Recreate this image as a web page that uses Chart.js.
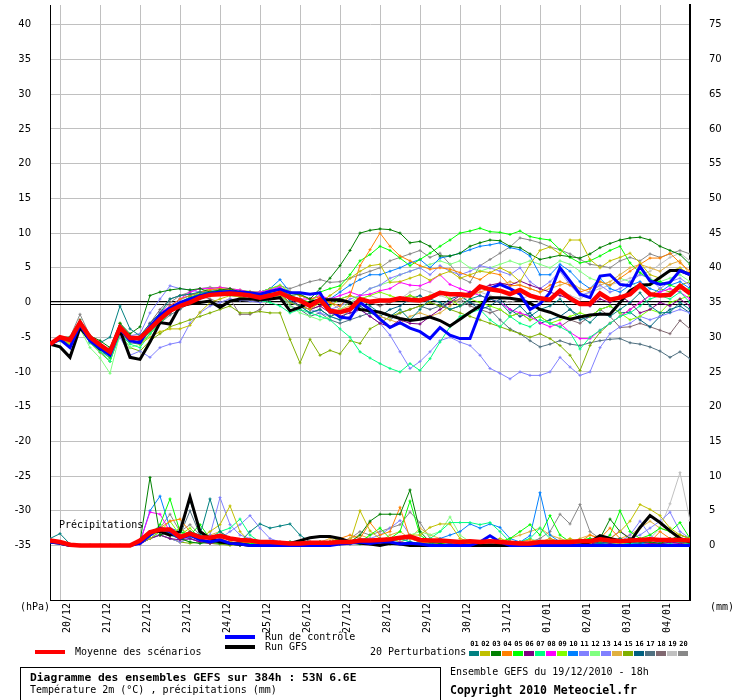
<!DOCTYPE html>
<html>
<head>
<meta charset="utf-8">
<title>Diagramme des ensembles GEFS</title>
<script src="https://cdn.jsdelivr.net/npm/chart.js@4.4.1/dist/chart.umd.min.js"></script>
<style>
  body { margin: 0; background: #fff; }
  #wrap { position: relative; width: 740px; height: 700px; overflow: hidden;
          font-family: "DejaVu Sans Mono", monospace; font-size: 10px; color: #000; }
  #chart { position: absolute; left: 0; top: 0; }
  .txt { position: absolute; white-space: pre; line-height: 10px; }
  .bar { position: absolute; width: 30px; height: 4px; }
  .sw  { position: absolute; top: 651px; width: 10px; height: 5px; }
  .num { position: absolute; top: 641px; width: 11px; text-align: center; font-size: 7px; font-weight: bold; line-height: 7px; }
  .bold { font-weight: bold; font-size: 11.3px; line-height: 11px; }
  #box { position: absolute; left: 20px; top: 667px; width: 419px; height: 40px; border: 1px solid #000; }
</style>
</head>
<body>
<div id="wrap">
  <canvas id="chart" width="740" height="700"></canvas>
  <div class="txt" style="left:20px;top:602px">(hPa)</div>
  <div class="txt" style="left:710px;top:602px">(mm)</div>
  <div class="txt" style="left:59px;top:520px">Précipitations</div>
  <div class="bar" style="left:225px;top:635px;background:#0000ff"></div>
  <div class="txt" style="left:265px;top:632px">Run de contrôle</div>
  <div class="bar" style="left:225px;top:645px;background:#000"></div>
  <div class="txt" style="left:265px;top:642px">Run GFS</div>
  <div class="bar" style="left:35px;top:650px;background:#ff0000"></div>
  <div class="txt" style="left:75px;top:647px">Moyenne des scénarios</div>
  <div class="txt" style="left:370px;top:647px">20 Perturbations</div>
  <div id="swatches"></div>
  <div id="box"></div>
  <div class="txt bold" style="left:30px;top:672px">Diagramme des ensembles GEFS sur 384h : 53N 6.6E</div>
  <div class="txt" style="left:30px;top:685px">Température 2m (°C) , précipitations (mm)</div>
  <div class="txt" style="left:450px;top:667px">Ensemble GEFS du 19/12/2010 - 18h</div>
  <div class="txt bold" style="left:450px;top:685px;font-size:11.5px">Copyright 2010 Meteociel.fr</div>
</div>
<script>
// time axis: hours after 19/12/2010 18h, 6-hourly
const hours = [0,6,12,18,24,30,36,42,48,54,60,66,72,78,84,90,96,102,108,114,120,126,132,138,144,150,156,162,168,174,180,186,192,
  198,204,210,216,222,228,234,240,246,252,258,264,270,276,282,288,294,300,306,312,318,324,330,336,342,348,354,360,366,372,378,384];
const dayTicks  = [6,30,54,78,102,126,150,174,198,222,246,270,294,318,342,366];
const dayLabels = ['20/12','21/12','22/12','23/12','24/12','25/12','26/12','27/12','28/12','29/12','30/12','31/12','01/01','02/01','03/01','04/01'];
const tempTicks = [-35,-30,-25,-20,-15,-10,-5,0,5,10,15,20,25,30,35,40];
const rainTicks = [0,5,10,15,20,25,30,35,40,45,50,55,60,65,70,75];
const pertColors = ['#008080','#c0c000','#008000','#ff8000','#00ff00','#800080','#00ff80','#ff00ff','#80ff00','#0080ff',
                    '#8080ff','#80ff80','#8080ff','#e0b040','#80b000','#006080','#507080','#806870','#c0c0c0','#888888'];

// 2m temperature (°C)
const tempMean = [-6.0,-5.0,-5.4,-2.9,-5.0,-6.1,-7.1,-3.6,-5.1,-5.1,-3.8,-2.4,-1.2,
  -0.5,0.0,0.7,1.1,1.2,1.3,1.2,1.0,0.7,1.0,1.4,0.7,0.3,
  -0.5,0.4,-1.2,-1.4,-1.0,0.5,0.1,0.3,0.3,0.6,0.4,0.3,0.7,
  1.4,1.2,1.2,1.0,2.3,1.9,1.7,1.2,1.8,1.0,0.6,0.4,1.7,
  0.6,-0.2,-0.2,1.3,0.4,0.7,1.2,2.5,1.2,1.0,1.1,2.4,1.3];
const tempCtrl = [-6.0,-5.3,-6.5,-3.2,-5.5,-6.6,-7.6,-3.8,-5.5,-5.8,-3.5,-1.8,-0.8,
  0.0,0.5,1.0,1.3,1.5,1.6,1.5,1.4,1.2,1.6,1.9,1.4,1.4,
  1.2,1.4,-1.0,-2.1,-2.3,0.0,-1.0,-2.4,-3.6,-2.9,-3.7,-4.2,-5.2,
  -3.6,-4.7,-5.2,-5.2,-1.4,2.0,2.6,2.0,1.2,-1.0,-0.2,1.4,5.0,
  3.1,1.2,0.7,3.8,4.0,2.6,2.4,5.2,3.1,2.6,2.9,4.6,4.0];
const tempGfs = [-6.0,-6.4,-7.9,-3.6,-5.4,-6.7,-7.1,-4.0,-7.9,-8.2,-5.7,-2.9,-3.1,
  -0.5,-0.2,0.0,0.2,-0.7,0.2,0.5,0.5,0.4,0.5,0.7,-1.2,-0.7,
  0.0,0.4,0.4,0.4,0.0,-1.0,-1.2,-1.4,-1.9,-2.3,-2.6,-2.4,-2.1,
  -2.6,-3.4,-2.4,-1.4,-0.5,0.7,0.7,0.6,0.4,-0.1,-1.0,-1.4,-2.0,
  -2.4,-2.1,-1.8,-1.7,-1.7,0.0,1.7,2.5,2.6,3.6,4.6,4.6,4.0];
const temp01 = [-6.0,-5.0,-5.5,-3.0,-5.3,-5.8,-5.0,-0.5,-3.8,-4.8,-3.0,-1.5,0.5,
  1.0,1.2,1.5,1.4,1.6,1.3,1.2,1.0,0.8,1.5,1.8,0.2,-0.5,
  -1.5,-1.0,-2.0,-2.5,-1.0,0.5,-0.5,-1.5,-2.0,-1.0,-2.5,-1.0,0.5,
  0.0,-1.0,-0.5,0.5,1.0,0.5,0.0,-1.5,-0.5,-2.0,-1.0,-0.5,0.5,
  -1.0,-2.0,-2.9,-1.5,-2.0,-1.0,0.0,1.4,-0.5,-1.5,-1.4,0.0,-1.0];
const temp02 = [-6.0,-5.2,-6.0,-3.5,-5.5,-6.5,-7.5,-4.5,-5.5,-6.0,-5.0,-4.2,-3.8,
  -3.8,-3.3,-1.4,0.0,0.5,1.0,0.8,0.5,0.3,0.8,1.0,0.0,-0.5,
  -1.0,0.0,1.0,2.0,3.5,4.5,5.3,5.5,2.9,3.0,3.5,4.0,3.2,
  4.0,4.5,3.5,4.0,4.5,4.3,5.0,4.3,3.0,5.5,7.5,8.0,7.0,
  9.0,9.0,6.2,5.0,6.0,6.5,7.1,5.7,4.0,3.5,4.5,5.0,4.0];
const temp03 = [-6.0,-5.0,-5.0,-2.5,-4.8,-5.5,-6.5,-3.0,-4.5,-3.5,1.0,1.5,1.8,
  2.0,1.8,2.0,1.5,1.8,2.0,1.5,1.3,1.0,1.2,1.5,1.0,1.2,
  0.5,2.0,3.5,5.3,7.5,10.0,10.4,10.6,10.5,10.0,8.6,8.8,8.1,
  6.7,6.7,7.1,8.1,8.6,9.0,8.9,8.1,7.9,7.0,6.2,6.5,6.8,
  6.6,6.4,7.0,7.9,8.5,9.0,9.3,9.4,9.0,8.1,7.5,6.9,5.5];
const temp04 = [-6.0,-5.2,-5.8,-3.0,-5.2,-6.3,-7.3,-3.8,-5.3,-5.0,-3.5,-2.0,-0.5,
  0.5,1.0,1.5,1.8,2.0,1.8,1.6,1.5,1.3,1.7,2.0,1.5,1.0,
  0.5,0.8,0.0,-0.5,1.0,5.3,7.6,10.0,8.1,6.7,6.0,5.3,4.8,
  5.0,4.8,4.3,3.8,3.3,4.3,4.0,2.4,2.5,2.0,1.5,2.5,3.0,
  2.5,1.5,2.0,3.0,2.5,3.5,4.5,5.5,6.4,6.4,7.1,5.7,4.5];
const temp05 = [-6.0,-5.3,-6.0,-3.3,-5.5,-6.8,-8.0,-3.5,-5.5,-5.8,-4.0,-2.5,-1.0,
  0.0,0.8,1.2,1.5,1.8,1.5,1.6,1.4,1.2,1.6,1.8,1.0,0.5,
  0.0,1.5,2.0,2.4,4.0,6.0,6.9,8.1,7.5,6.4,5.3,6.2,7.1,
  8.1,9.0,10.0,10.3,10.7,10.2,10.1,9.8,10.3,9.5,9.2,9.0,7.6,
  6.5,5.7,6.0,6.7,7.5,8.1,5.7,4.3,3.3,3.0,2.5,2.0,1.9];
const temp06 = [-6.0,-5.0,-5.3,-2.8,-5.0,-6.0,-7.0,-3.5,-5.0,-5.5,-4.0,-2.5,-1.5,
  -0.5,0.3,1.0,1.3,1.5,1.6,1.4,1.2,1.0,1.3,1.5,0.5,-0.5,
  -1.0,-0.5,-1.5,-2.0,-1.5,-1.0,-2.0,-3.0,-3.5,-2.5,-3.0,-3.1,-2.0,
  -1.0,0.0,1.0,1.5,2.0,2.5,2.8,2.5,3.1,2.5,2.0,1.5,1.0,
  0.5,0.0,-0.5,0.5,0.0,1.0,0.0,-1.5,-1.0,0.0,-0.5,0.5,-0.5];
const temp07 = [-6.0,-5.5,-6.2,-3.5,-5.8,-7.0,-8.5,-4.5,-6.0,-6.5,-4.5,-3.0,-1.5,
  -0.5,0.5,1.0,1.2,1.4,1.5,1.2,0.8,0.3,0.0,-0.5,-1.5,-1.0,
  -1.5,-2.0,-2.5,-3.8,-5.0,-7.1,-8.0,-8.8,-9.5,-10.0,-8.8,-9.8,-8.1,
  -5.7,-3.5,-2.0,-1.5,-1.0,-2.5,-3.5,-2.0,-3.0,-3.5,-2.5,-3.0,-3.5,
  -4.3,-6.7,-5.0,-4.0,-3.0,-2.0,-1.5,-0.5,0.5,1.0,0.5,1.5,0.0];
const temp08 = [-6.0,-5.0,-5.5,-3.0,-5.0,-6.2,-7.0,-3.3,-5.0,-5.3,-3.0,-1.5,-0.5,
  0.5,1.5,2.0,2.0,2.2,2.0,1.8,1.5,1.5,1.8,2.2,1.0,0.5,
  0.5,1.0,0.5,1.0,1.5,1.0,1.2,1.7,2.0,2.9,2.5,2.4,3.0,
  4.0,2.6,2.0,1.5,1.0,0.5,0.0,-1.0,-1.5,-2.0,-2.9,-3.5,-3.0,
  -4.3,-5.2,-5.2,-4.0,-3.0,-2.0,-1.0,0.0,1.0,1.5,2.0,1.5,0.5];
const temp09 = [-6.0,-5.5,-6.0,-3.2,-5.5,-6.5,-7.8,-3.0,-5.5,-6.0,-4.5,-3.0,-1.5,
  -0.5,0.5,1.5,2.0,2.2,2.0,1.8,1.6,1.5,2.0,2.5,1.5,1.0,
  0.5,0.0,-0.5,0.5,1.0,0.5,1.0,1.5,1.0,0.5,1.0,0.5,1.0,
  1.5,0.5,-0.5,0.5,0.0,-0.5,-1.0,-2.0,-1.5,-2.5,-2.0,-3.0,-2.5,
  -2.0,-1.5,-2.0,-1.0,-0.5,-1.5,-2.5,-2.0,-1.0,-1.5,0.0,0.5,1.0];
const temp10 = [-6.0,-5.0,-5.2,-2.8,-5.0,-6.0,-7.2,-3.5,-5.0,-5.2,-3.5,-2.0,-0.5,
  0.5,1.0,1.5,1.7,1.6,1.8,1.5,1.3,1.5,2.0,3.3,1.5,1.0,
  0.5,0.0,0.5,1.5,2.5,3.3,4.0,4.0,4.5,5.0,5.7,6.2,5.0,
  6.4,6.7,7.1,7.6,8.1,8.3,8.6,7.9,7.6,6.7,4.0,4.0,5.5,
  4.5,3.0,2.0,3.5,2.0,1.5,2.5,3.0,2.0,1.5,2.5,3.0,2.0];
const temp11 = [-6.0,-5.0,-5.5,-3.0,-5.2,-6.0,-7.0,-3.5,-4.8,-4.5,-1.5,0.5,2.4,
  2.0,1.8,1.5,2.0,1.8,1.5,1.3,1.2,1.5,2.0,2.2,1.5,1.0,
  0.5,0.0,-1.0,-0.5,0.5,1.0,2.0,2.5,3.5,4.0,4.5,5.0,4.0,
  5.3,4.5,4.0,4.5,5.3,5.0,4.5,4.0,5.0,3.0,2.0,3.0,4.5,
  2.5,1.0,1.5,2.5,1.5,2.0,3.0,4.0,3.5,2.0,3.0,3.5,2.5];
const temp12 = [-6.0,-5.5,-6.5,-3.8,-6.5,-8.0,-10.2,-4.5,-6.5,-6.0,-4.0,-2.5,-1.0,
  0.0,0.5,1.0,1.5,1.8,1.6,1.5,1.3,1.0,1.5,1.2,-0.5,-1.5,
  -2.0,-2.5,-2.0,-1.0,0.0,1.0,2.0,2.5,3.0,4.0,4.5,5.0,5.5,
  6.0,5.5,6.0,5.0,4.5,5.0,5.5,6.0,5.5,6.0,5.5,5.0,6.0,
  5.5,4.5,3.5,3.0,2.5,3.5,3.0,2.0,2.5,3.0,3.5,4.0,3.0];
const temp13 = [-6.0,-5.3,-6.0,-3.5,-5.8,-7.0,-8.0,-5.0,-7.6,-7.0,-7.9,-6.5,-6.0,
  -5.7,-3.0,-1.5,-0.5,0.0,0.5,0.3,0.2,0.0,0.5,0.8,0.0,-0.5,
  -1.0,-1.5,-2.0,-2.5,-2.0,-1.0,-2.0,-3.0,-4.7,-7.1,-9.5,-8.5,-7.1,
  -5.5,-5.0,-5.7,-6.2,-7.6,-9.5,-10.2,-11.0,-10.0,-10.5,-10.5,-10.0,-7.9,
  -9.3,-10.5,-10.0,-6.5,-4.5,-3.5,-3.0,-2.0,-2.5,-2.0,-1.5,-1.0,-1.5];
const temp14 = [-6.0,-5.2,-5.6,-3.2,-5.2,-6.3,-7.5,-3.8,-5.2,-5.5,-4.0,-2.8,-1.5,
  -0.5,0.5,1.0,1.5,1.7,1.5,1.3,1.0,1.2,1.5,1.7,0.5,0.0,
  -0.5,0.5,0.0,-1.0,-0.5,0.0,-1.0,-2.0,-2.5,-3.0,-2.0,-1.5,-2.0,
  -1.5,-0.5,0.5,1.0,1.5,2.0,2.5,3.0,2.5,2.0,1.5,2.0,2.5,
  3.0,2.0,1.5,2.5,3.0,4.0,5.0,5.5,5.0,4.5,5.5,6.0,4.0];
const temp15 = [-6.0,-5.5,-6.2,-3.6,-5.8,-7.2,-8.5,-4.5,-6.5,-7.0,-5.5,-4.5,-3.5,
  -3.0,-2.5,-2.0,-1.5,-1.0,-0.5,-1.5,-1.5,-1.3,-1.5,-1.5,-5.3,-8.7,
  -5.3,-7.6,-6.9,-7.4,-5.5,-5.9,-3.8,-3.0,-2.0,-1.5,-1.0,-0.5,0.0,
  -0.5,-1.0,-1.5,-2.0,-2.5,-3.0,-3.5,-4.0,-4.5,-5.0,-4.5,-5.2,-6.2,
  -7.6,-9.8,-6.2,-4.3,-3.0,-2.0,-1.0,0.0,1.0,2.0,1.5,2.5,3.0];
const temp16 = [-6.0,-5.0,-5.5,-3.0,-5.3,-6.3,-7.5,-4.0,-5.5,-5.8,-4.2,-2.8,-1.5,
  -0.5,0.3,0.8,1.2,1.5,1.3,1.0,0.8,0.5,1.0,1.2,0.0,-0.5,
  -1.5,-1.0,-2.0,-1.5,-1.0,-0.5,-1.5,-2.0,-1.0,-0.5,0.5,1.0,0.0,
  -0.5,0.5,1.0,0.0,-1.0,-0.5,0.5,-1.0,-2.0,-1.5,-3.0,-2.5,-2.0,
  -1.0,-2.5,-2.0,-1.0,-0.5,-1.5,-1.4,-2.5,-3.5,-2.0,-1.0,-0.5,-1.5];
const temp17 = [-6.0,-5.3,-5.8,-3.4,-5.6,-6.6,-7.8,-4.3,-5.8,-6.0,-4.5,-3.0,-1.8,
  -1.0,0.0,0.5,1.0,1.2,1.0,0.8,0.5,0.3,0.8,1.0,-0.5,-1.0,
  -2.0,-1.5,-2.5,-3.0,-2.5,-2.0,-1.5,-2.0,-2.5,-1.5,-1.0,-0.5,-1.0,
  -0.5,-1.0,-0.5,0.0,-0.5,-1.0,-2.5,-3.8,-4.5,-5.5,-6.4,-6.0,-5.5,
  -6.0,-6.2,-5.8,-5.5,-5.3,-5.2,-5.8,-6.0,-6.4,-7.0,-7.9,-7.1,-8.1];
const temp18 = [-6.0,-5.0,-5.4,-3.0,-5.1,-6.2,-7.2,-3.7,-5.2,-5.0,-3.0,-1.0,0.5,
  1.0,1.2,1.0,0.5,0.0,0.5,-1.7,-1.7,-1.0,0.5,0.8,0.0,-0.5,
  -1.0,-0.5,0.0,0.5,1.0,0.5,0.0,-0.5,0.0,0.5,1.0,0.5,0.0,
  -0.5,0.0,0.5,-0.5,-1.0,-1.5,-1.0,-2.0,-1.5,-2.5,-2.0,-3.0,-3.5,
  -2.5,-3.0,-2.0,-1.0,-2.0,-3.6,-3.5,-3.0,-3.5,-4.0,-4.5,-2.6,-3.8];
const temp19 = [-6.0,-5.1,-5.6,-3.0,-5.2,-6.1,-7.0,-3.4,-5.0,-5.3,-3.5,-2.0,-0.8,
  0.3,1.0,1.5,1.8,1.8,1.7,1.5,1.2,1.0,1.6,2.0,1.0,0.5,
  0.0,0.5,0.0,-0.5,0.0,0.5,1.0,0.5,0.0,0.5,1.5,2.0,1.5,
  1.0,0.5,0.0,1.0,1.5,1.0,0.5,0.0,0.5,1.0,0.0,0.5,1.5,
  1.0,0.5,1.5,2.0,2.5,3.0,3.5,4.0,4.5,5.5,6.5,7.1,6.0];
const temp20 = [-6.0,-5.0,-5.0,-1.7,-4.8,-6.0,-7.0,-3.0,-4.8,-5.0,-3.0,-1.5,0.0,
  1.0,1.5,2.0,2.2,2.0,1.8,1.5,1.2,1.5,2.0,2.4,2.0,2.5,
  3.0,3.3,2.9,3.0,3.5,4.0,4.5,5.0,6.0,6.5,7.0,7.5,6.5,
  7.1,5.5,3.6,2.9,5.3,6.2,7.1,8.0,9.3,9.0,8.6,8.0,7.6,
  7.0,6.2,5.5,5.3,5.0,6.0,6.5,6.0,7.0,6.5,7.0,7.5,7.0];

// precipitation (mm, right axis)
const rainMean = [0.7,0.5,0.1,0,0,0,0,0,0,0.7,1.9,2.3,2.3,
  1.2,1.7,1.2,1.1,1.4,1.0,0.8,0.7,0.5,0.5,0.4,0.3,0.3,
  0.4,0.4,0.4,0.5,0.5,0.7,0.7,0.8,0.9,1.1,1.3,0.8,0.7,
  0.7,0.6,0.5,0.6,0.5,0.6,0.5,0.4,0.3,0.3,0.5,0.5,0.5,
  0.5,0.6,0.6,0.9,0.7,0.6,0.7,0.8,0.9,0.8,0.8,0.8,0.7];
const rainCtrl = [0.5,0.3,0,0,0,0,0,0,0,0.3,1.5,2.5,2.0,
  1.0,1.5,0.8,0.5,0.8,0.3,0.2,0,0,0,0,0,0,
  0,0,0,0.2,0.3,0.5,0.3,0.5,0.5,0.2,0.3,0.2,0,
  0,0,0,0,0.5,1.4,0.5,0,0,0,0,0,0,
  0,0,0,0,0,0,0,0,0,0,0,0,0];
const rainGfs = [0.5,0.3,0,0,0,0,0,0,0,0.5,2.0,2.0,1.5,
  2.0,7.0,2.0,1.0,0.5,0.3,0.2,0,0,0,0,0.3,0.7,
  1.1,1.3,1.3,1.0,0.5,0.3,0.2,0,0.3,0.2,0,0,0,
  0,0,0,0,0,0,0,0,0,0,0,0,0,
  0,0,0.5,1.4,1.0,0.7,0.5,2.6,4.3,3.3,2.1,1.0,0.5];
const rain01 = [1.0,1.7,0.2,0,0,0,0,0,0,0.5,1.5,2.5,1.5,
  1.0,2.0,1.5,6.7,2.0,1.0,0.5,2.0,3.1,2.5,2.8,3.1,1.5,
  0.5,0.3,0,0.2,0.5,0.8,0.5,1.0,0.5,0.3,0.5,0.3,0.2,
  0.5,0.3,0,0,0.5,0.3,0,0.5,0.3,0,0.5,0.3,0,
  0,0.3,0.5,0.3,0.5,1.0,0.5,0.3,0.8,0.5,1.0,0.5,0.3];
const rain02 = [0.5,0.5,0,0,0,0,0,0,0,0.3,1.0,2.0,1.5,
  2.5,1.5,1.0,2.0,3.0,5.7,2.0,0.5,0.3,0.5,0.3,0.2,0.5,
  0.3,0.2,0.5,1.0,0.5,5.0,2.1,1.0,0.8,1.0,1.5,1.5,2.6,
  3.1,3.1,1.0,0.5,0.3,0.5,1.0,0.5,0,0.3,0.5,0.3,0.5,
  1.0,0.5,0.3,0.8,1.0,2.0,3.5,5.9,5.2,4.3,2.5,1.5,1.0];
const rain03 = [0.5,0.3,0,0,0,0,0,0,0,0.5,9.8,1.5,2.0,
  1.0,0.5,0.3,0.5,0.3,0.2,0,0,0,0,0,0,0,
  0,0.2,0.5,1.0,0.5,1.5,3.5,4.5,4.5,4.5,8.0,2.0,0.5,
  0.3,0,0,0,0,0,0.5,0.3,0,0,0,0.5,0.3,
  0.5,0.3,0.5,1.0,3.8,2.0,1.0,0.5,0.5,0.3,0.8,1.5,1.0];
const rain04 = [0.5,0.5,0,0,0,0,0,0,0,0.3,1.5,2.5,3.5,
  3.8,2.0,1.0,0.5,1.0,0.5,0.3,0.5,0.3,0.2,0.5,0.3,0.2,
  0.5,0.3,0.5,1.0,1.5,1.0,3.3,1.5,2.0,5.5,1.0,0.5,0.3,
  0.3,0,0.5,0.3,0,0.5,0.3,0.2,0.5,0.8,0.5,1.0,0.5,
  0.8,0.5,1.5,1.0,2.5,1.0,0.5,1.0,0.5,2.0,1.0,0.5,1.0];
const rain05 = [0.5,0.5,0,0,0,0,0,0,0,0.3,1.5,3.0,6.7,
  2.0,1.5,3.0,1.0,0.5,0.3,0.5,0.3,0.2,0.3,0.2,0.5,0.3,
  0.2,0.5,0.3,0.5,0.3,0.5,1.5,2.5,1.0,2.0,6.4,1.5,0.5,
  0.3,0.5,0.3,0.2,0.5,0.3,0.5,1.0,2.0,3.0,1.5,4.3,1.5,
  0.5,0.8,1.0,0.5,1.5,5.0,2.0,1.0,1.5,2.5,2.0,3.3,1.0];
const rain06 = [0.5,0.3,0,0,0,0,0,0,0,0.2,1.0,1.5,1.0,
  0.8,1.0,0.5,0.3,0.5,0.2,0,0,0,0,0.2,0,0,
  0,0,0.2,0.5,0.3,0.5,0.3,0.2,0.5,0.3,0.2,0,0,
  0,0.2,0,0,0.3,0,0,0,0,0.2,0.5,0.3,0,
  0,0,0.2,0.5,0.3,0.5,1.0,0.5,0.3,0.2,0.5,0.3,0];
const rain07 = [0.5,0.3,0,0,0,0,0,0,0,0.3,1.0,2.0,1.5,
  2.5,1.0,1.5,1.0,2.0,2.5,3.8,1.5,0.5,0.3,0.2,0.5,0.3,
  0.2,0,0.3,0.5,0.3,0.2,0.5,0.3,0.5,1.0,0.5,0.3,1.0,
  2.0,3.3,3.3,3.3,3.0,3.3,2.0,0.5,0.5,1.0,2.5,1.0,0.5,
  0.3,0.5,1.0,0.5,0.3,0.5,0.3,0.5,1.0,0.5,0.3,0.5,0.3];
const rain08 = [0.5,0.3,0,0,0,0,0,0,0,0.5,4.8,4.5,2.0,
  1.5,1.0,0.5,0.8,0.5,0.3,0.2,0,0,0.2,0,0,0,
  0,0.2,0.3,0.5,0.3,0.5,0.8,0.5,0.3,0.5,0.3,0.2,0,
  0,0.2,0.3,0,0,0.2,0,0,0,0.2,0,0,0,
  0.2,0.5,0.3,0.8,1.0,2.1,1.0,0.5,0.3,0.5,0.3,0.2,0];
const rain09 = [0.5,0.3,0,0,0,0,0,0,0,0.3,1.5,2.0,3.5,
  1.5,2.5,1.0,0.5,0.3,0.5,0.3,0.2,0,0.2,0,0,0.2,
  0.3,0.5,0.3,0.2,0.5,0.3,0.5,0.8,1.0,0.5,0.3,0.5,0.3,
  0.2,0.5,0.3,0.2,0,0.3,0.5,0.3,0.2,0.3,0.5,0.3,0.2,
  0.3,0.5,0.3,0.5,0.3,0.5,0.8,0.5,0.3,0.5,1.0,0.5,0.3];
const rain10 = [0.5,0.3,0,0,0,0,0,0,0,0.5,5.0,7.1,2.5,
  2.0,1.0,0.5,0.8,0.5,0.3,0.2,0.3,0.2,0,0,0.2,0.3,
  0.2,0.3,0.5,0.3,0.5,1.0,0.5,0.3,0.5,1.0,0.5,0.3,0.5,
  1.0,1.5,2.0,3.1,2.5,3.1,2.6,1.0,0.5,1.4,7.6,1.5,0.5,
  0.3,0.5,0.3,0.2,0.3,0.5,0.3,0.2,0.5,0.3,0.2,0.5,0.3];
const rain11 = [0.5,0.3,0,0,0,0,0,0,0,0.3,1.5,1.5,2.0,
  1.0,1.5,1.0,1.5,6.9,3.0,1.5,1.0,0.5,0.3,0.2,0.5,0.3,
  0.2,0.3,0.5,0.3,0.5,1.0,1.0,1.5,2.5,3.6,1.5,0.3,0.5,
  0.3,0.2,0,0.3,0.2,0,0.3,0.2,0.5,0.3,0.2,0.5,0.3,
  0.2,0.5,1.0,0.5,0.3,0.5,1.5,3.5,1.5,0.5,1.0,0.5,0.3];
const rain12 = [0.5,0.3,0,0,0,0,0,0,0,0.3,1.0,2.0,1.5,
  1.0,0.5,0.3,0.5,0.3,0.2,0.5,0.3,0.2,0,0,0.2,0,
  0,0.2,0.3,0.5,0.3,0.5,1.0,0.5,1.0,0.5,1.5,2.0,1.5,
  2.0,4.1,1.5,0.5,0.3,0.5,0.3,0.2,0.5,1.0,0.5,0.3,0.5,
  0.3,0.5,0.3,0.5,0.3,0.2,0.5,0.3,0.5,0.3,0.2,0.5,0.3];
const rain13 = [0.5,0.3,0,0,0,0,0,0,0,0.2,1.0,1.5,1.0,
  0.5,1.0,0.5,0.8,1.0,2.0,3.0,4.3,2.5,1.0,0.5,0.3,0.2,
  0,0.2,0.3,0.5,0.3,0.5,0.3,0.2,0.5,0.3,0.2,0.5,0.3,
  0.2,0,0.2,0,0,0.3,0,0,0.2,0,0.3,0.5,0.3,
  0.2,0.5,0.8,0.5,0.3,0.5,1.0,1.5,2.5,3.5,4.8,2.0,1.0];
const rain14 = [0.5,0.3,0,0,0,0,0,0,0,0.3,1.5,2.5,2.0,
  1.5,2.0,1.0,1.5,2.0,1.0,0.5,0.3,0.2,0.5,0.3,0.2,0.5,
  0.3,0.5,1.0,0.5,1.0,1.5,1.0,0.5,1.5,2.0,1.0,2.5,1.5,
  1.0,0.5,0.3,0.2,0.5,0.3,0.5,1.0,1.5,2.0,2.5,1.5,1.0,
  0.5,1.0,1.5,1.0,0.5,1.0,1.5,2.5,3.5,2.5,2.0,1.5,1.0];
const rain15 = [0.5,0.3,0,0,0,0,0,0,0,0.3,1.0,1.5,1.0,
  0.5,0.3,0.5,0.3,0.2,0,0.2,0,0,0.2,0,0,0.2,
  0.3,0.5,0.3,0.2,0.5,0.3,0.5,0.3,0.2,0.5,0.3,0.2,0,
  0,0.2,0,0,0.2,0,0,0,0.2,0,0,0.2,0,
  0,0.2,0.3,0.5,0.3,0.2,0.5,0.3,0.2,0.5,0.3,0.2,0.3];
const rain16 = [0.8,0.5,0,0,0,0,0,0,0,0.5,2.0,2.5,2.0,
  2.0,6.5,2.0,1.0,0.5,0.3,0.5,0.3,0.2,0,0.2,0,0,
  0,0.2,0,0.3,0.2,0.5,0.3,0.2,0.5,0.3,0.2,0,0,
  0,0,0.2,0,0,0,0.2,0,0,0,0,0.2,0,
  0,0,0.2,0.3,0.5,0.3,0.2,0.5,0.3,0.2,0.3,0.5,0.3];
const rain17 = [0.5,0.3,0,0,0,0,0,0,0,0.3,1.5,2.0,1.5,
  1.5,5.0,1.5,1.0,0.5,0.3,0.2,0.5,0.3,0.2,0,0,0,
  0,0.2,0.3,0.2,0.5,0.3,0.2,0.5,0.3,0.2,0,0.2,0,
  0,0,0,0.2,0,0,0,0.2,0,0,0,0,0.2,
  0,0.2,0,0.3,0.2,0.5,0.3,0.2,0.3,0.5,0.3,0.2,0];
const rain18 = [0.5,0.3,0,0,0,0,0,0,0,0.3,1.0,1.5,1.0,
  0.5,1.0,0.5,0.3,0.2,0.5,0.3,0.2,0,0,0.2,0,0,
  0.2,0,0.3,0.2,0.5,0.3,0.5,0.3,0.2,0.5,1.0,0.5,0.3,
  0.2,0,0,0.2,0,0,0.2,0,0,0.3,0,0,0.2,
  0.3,0.5,0.3,0.2,0.5,0.3,0.5,0.3,0.2,0.5,0.3,0.2,0.3];
const rain19 = [0.5,0.3,0,0,0,0,0,0,0,0.3,1.5,2.0,1.5,
  1.0,1.5,0.5,0.3,0.5,0.3,0.2,0,0.2,0,0,0.2,0,
  0.2,0.3,0.5,0.3,0.2,0.5,0.3,0.2,0.5,0.3,0.2,0.5,0.3,
  0.2,0,0.2,0,0.3,0.2,0,0.2,0.5,0.3,0.2,0.5,0.3,
  0.5,0.3,0.5,0.3,0.5,1.0,0.5,1.0,1.0,2.5,6.0,10.5,3.6];
const rain20 = [0.5,0.3,0,0,0,0,0,0,0,0.3,1.5,2.5,4.5,
  2.0,3.0,1.5,1.0,2.0,0.5,0.3,0.2,0.5,0.3,0.2,0.5,0.3,
  0.2,0.5,0.3,0.5,1.0,2.0,1.5,2.0,2.5,3.0,4.8,3.3,1.0,
  0.5,0.3,0.5,0.3,0.2,0.5,0.3,0.5,0.3,0.5,1.0,2.0,4.5,
  3.1,5.9,2.0,1.0,0.5,0.3,0.5,1.0,0.5,0.3,0.5,1.0,0.5];

const tempPert = [temp01,temp02,temp03,temp04,temp05,temp06,temp07,temp08,temp09,temp10,
                  temp11,temp12,temp13,temp14,temp15,temp16,temp17,temp18,temp19,temp20];
const rainPert = [rain01,rain02,rain03,rain04,rain05,rain06,rain07,rain08,rain09,rain10,
                  rain11,rain12,rain13,rain14,rain15,rain16,rain17,rain18,rain19,rain20];

// legend swatches
const sw = document.getElementById('swatches');
pertColors.forEach((c, k) => {
  const left = 469 + k * 11;
  const n = document.createElement('div');
  n.className = 'num'; n.style.left = left + 'px';
  n.textContent = String(k + 1).padStart(2, '0');
  sw.appendChild(n);
  const b = document.createElement('div');
  b.className = 'sw'; b.style.left = left + 'px'; b.style.background = c;
  sw.appendChild(b);
});

function series(values, color, width, axis, order, marker) {
  return {
    data: hours.map((h, i) => ({ x: h, y: values[i] })),
    yAxisID: axis,
    borderColor: color,
    backgroundColor: color,
    borderWidth: width,
    pointRadius: marker ? 1.5 : 0,
    pointStyle: 'cross',
    pointBorderWidth: 1,
    tension: 0,
    fill: false,
    order
  };
}

const datasets = [];
tempPert.forEach((v, k) => datasets.push(series(v, pertColors[k], 1, 'y', 3, true)));
rainPert.forEach((v, k) => datasets.push(series(v, pertColors[k], 1, 'y2', 3, true)));
datasets.push(series(tempGfs, '#000000', 3, 'y', 2, false));
datasets.push(series(rainGfs, '#000000', 3, 'y2', 2, false));
datasets.push(series(tempCtrl, '#0000ff', 3, 'y', 1, false));
datasets.push(series(rainCtrl, '#0000ff', 3, 'y2', 1, false));
datasets.push(series(tempMean, '#ff0000', 4.5, 'y', 0, false));
datasets.push(series(rainMean, '#ff0000', 4.5, 'y2', 0, false));

// double black line at 0 °C
const zeroLine = {
  id: 'zeroLine',
  beforeDatasetsDraw(chart) {
    const { ctx, chartArea: a, scales: { y } } = chart;
    const y0 = Math.round(y.getPixelForValue(0));
    ctx.save();
    ctx.strokeStyle = '#000';
    ctx.lineWidth = 1;
    [y0 - 2, y0 + 1].forEach(p => {
      ctx.beginPath();
      ctx.moveTo(a.left, p + 0.5);
      ctx.lineTo(a.right, p + 0.5);
      ctx.stroke();
    });
    ctx.restore();
  }
};

const half = 300 / 7;
const numFont = { family: 'DejaVu Sans', size: 10 };

new Chart(document.getElementById('chart'), {
  type: 'line',
  data: { datasets },
  plugins: [zeroLine],
  options: {
    responsive: false,
    animation: false,
    layout: { padding: 0 },
    plugins: { legend: { display: false }, tooltip: { enabled: false } },
    scales: {
      x: {
        type: 'linear', min: 0, max: 384,
        afterBuildTicks: s => { s.ticks = dayTicks.map(v => ({ value: v })); },
        afterFit: s => { s.height = 100; s.paddingLeft = 0; s.paddingRight = 0; },
        ticks: {
          autoSkip: false, minRotation: 90, maxRotation: 90, labelOffset: 7, padding: 3,
          color: '#000', font: { family: 'DejaVu Sans Mono', size: 10 },
          callback: (v, i) => dayLabels[i]
        },
        grid: { color: '#c0c0c0', drawTicks: false },
        border: { color: '#000', width: 1 }
      },
      y: {
        position: 'left', min: -half, max: half,
        afterBuildTicks: s => { s.ticks = tempTicks.map(v => ({ value: v })); },
        afterFit: s => { s.width = 50; s.paddingTop = 0; s.paddingBottom = 0; },
        ticks: { padding: 19, color: '#000', font: numFont, callback: v => String(v) },
        grid: { color: '#c0c0c0', drawTicks: false },
        border: { color: '#000', width: 1 }
      },
      y2: {
        position: 'right', min: 35 - half, max: 35 + half,
        afterBuildTicks: s => { s.ticks = rainTicks.map(v => ({ value: v })); },
        afterFit: s => { s.width = 50; s.paddingTop = 0; s.paddingBottom = 0; },
        ticks: { padding: 19, color: '#000', font: numFont, callback: v => String(v) },
        grid: { display: false, drawTicks: false },
        border: { color: '#000', width: 2 }
      }
    }
  }
});
</script>
</body>
</html>
